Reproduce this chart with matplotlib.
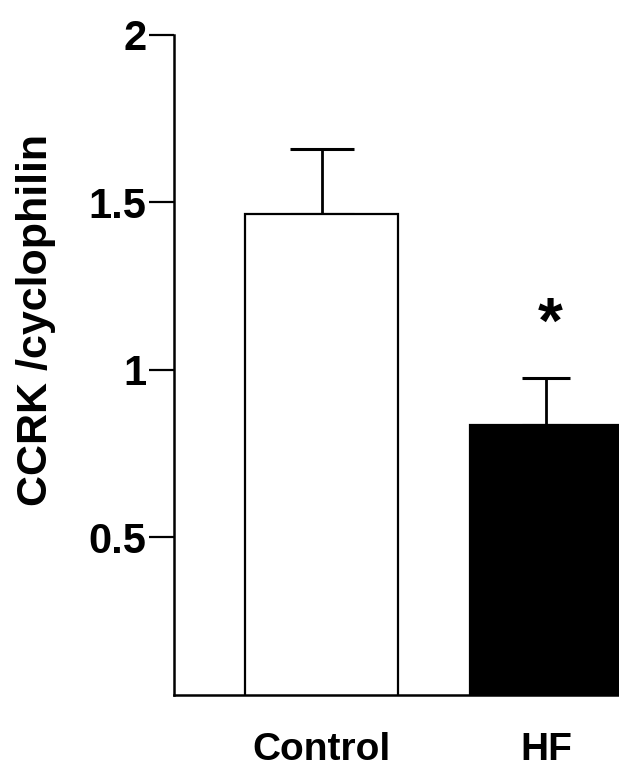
import matplotlib
matplotlib.use("Agg")
import matplotlib.pyplot as plt

### data ###
groups = ["Control", "HF"]
values = [1.465, 0.835]
errors = [0.195, 0.14]
colors = ["white", "black"]
caps = [23, 17]
yticks = [0.5, 1, 1.5, 2]
yticklabels = ["0.5", "1", "1.5", "2"]

plt.rcParams["font.family"] = ["Liberation Sans", "DejaVu Sans"]
plt.rcParams["font.weight"] = "bold"

fig = plt.figure(figsize=(6.19, 7.69), dpi=100)
ax = fig.add_axes([174 / 619, 74 / 769, 1 - 174 / 619, 660 / 769])

x = list(range(len(groups)))
ax.bar(x, values, width=0.68, color=colors, edgecolor="black", linewidth=1.6, zorder=2)

# error bars, upward only
for i in x:
    ax.errorbar(x[i], values[i], yerr=[[0], [errors[i]]], fmt="none", ecolor="black",
                elinewidth=2.0, capsize=caps[i], capthick=2.2, zorder=1)

# significance star
ax.text(x[1] + 0.02, values[1] + errors[1] + 0.155, "*", ha="center", va="center",
        fontsize=46, fontweight="bold")

ax.set_xlim(-0.657, 1.325)
ax.set_ylim(0.028, 2.0)
ax.set_yticks(yticks)
ax.set_yticklabels(yticklabels)
ax.set_xticks(x)
ax.set_xticklabels(groups)

ax.spines["top"].set_visible(False)
ax.spines["right"].set_visible(False)
ax.spines["left"].set_linewidth(1.8)
ax.spines["bottom"].set_linewidth(1.8)

ax.tick_params(axis="y", direction="out", length=18, width=1.6, pad=2, labelsize=30)
ax.tick_params(axis="x", length=0, pad=27, labelsize=28)
for lab in ax.get_xticklabels() + ax.get_yticklabels():
    lab.set_fontweight("bold")

fig.text(36 / 619, 1 - 320 / 769, "CCRK /cyclophilin", rotation=90, ha="center", va="center",
         fontsize=31, fontweight="bold")

fig.savefig("out.png", dpi=100)
